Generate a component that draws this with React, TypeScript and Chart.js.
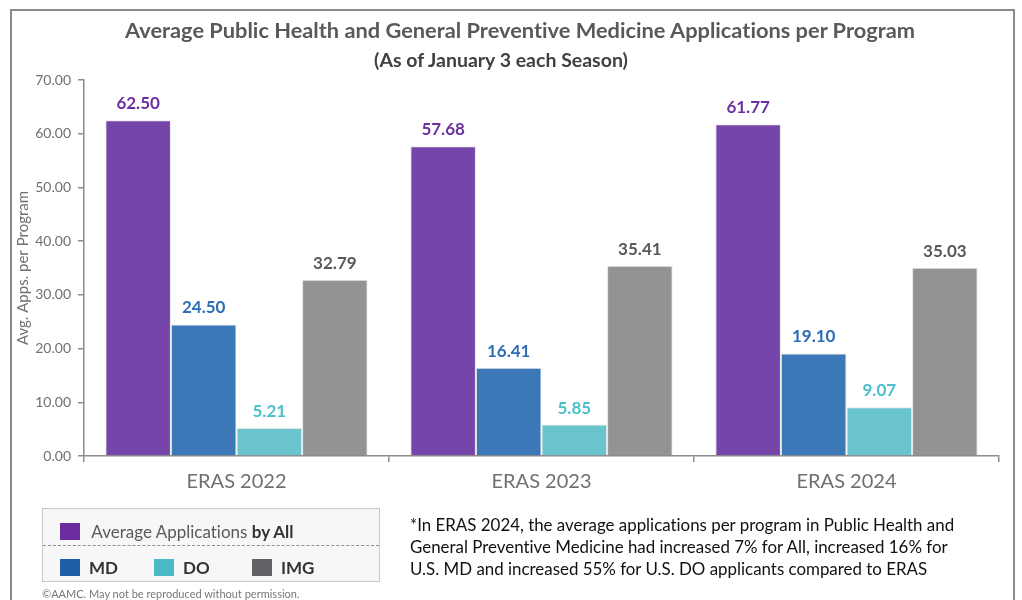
import React, { useEffect, useRef } from "react";
import { Chart, registerables } from "chart.js";

Chart.register(...registerables);

const categories = ["ERAS 2022", "ERAS 2023", "ERAS 2024"];
const allValues = [62.5, 57.68, 61.77];
const mdValues = [24.5, 16.41, 19.1];
const doValues = [5.21, 5.85, 9.07];
const imgValues = [32.79, 35.41, 35.03];
const yTicks = [0, 10, 20, 30, 40, 50, 60, 70];

const seriesNames = ["Average Applications by All", "MD", "DO", "IMG"];
const barColors = ["#7645A9", "#3C78B8", "#69C4CE", "#939393"];
const labelColors = ["#6B2FA0", "#2E6DB4", "#4BBFCB", "#595959"];

const FONT = "Lato, 'Open Sans', sans-serif";

const labelPlugin = {
  id: "valueLabels",
  afterDatasetsDraw(chart: any) {
    const ctx = chart.ctx;
    ctx.save();
    chart.data.datasets.forEach((ds: any, i: number) => {
      const meta = chart.getDatasetMeta(i);
      meta.data.forEach((el: any, j: number) => {
        ctx.fillStyle = labelColors[i];
        ctx.font = `bold 17px ${FONT}`;
        ctx.textAlign = "center";
        ctx.textBaseline = "bottom";
        ctx.fillText(Number(ds.data[j]).toFixed(2), el.x, el.y - 8);
      });
    });
    ctx.restore();
  },
};

export default function App() {
  const ref = useRef<HTMLCanvasElement>(null);
  useEffect(() => {
    const chart = new Chart(ref.current!, {
      type: "bar",
      data: {
        labels: categories,
        datasets: [allValues, mdValues, doValues, imgValues].map((d, i) => ({
          label: seriesNames[i],
          data: d,
          backgroundColor: barColors[i],
          borderColor: "#e6e6e6",
          borderWidth: 1,
          categoryPercentage: 0.86,
          barPercentage: 1,
        })),
      },
      options: {
        animation: false,
        responsive: false,
        maintainAspectRatio: false,
        layout: { padding: { left: 12, right: 23, top: 80, bottom: 100 } },
        plugins: { legend: { display: false }, tooltip: { enabled: false }, title: { display: false } },
        scales: {
          x: {
            grid: { display: true, drawOnChartArea: false, offset: true, tickLength: 6, color: "#8c8c8c", lineWidth: 1.5 },
            border: { display: true, color: "#8c8c8c", width: 1.5 },
            ticks: { color: "#707070", font: { family: FONT, size: 20 }, padding: 8 },
            afterFit: (s: any) => { s.height = 44; },
          },
          y: {
            min: 0,
            max: 70,
            afterBuildTicks: (s: any) => { s.ticks = yTicks.map((v) => ({ value: v })); },
            grid: { display: true, drawOnChartArea: false, tickLength: 6, color: "#8c8c8c", lineWidth: 1.5 },
            border: { display: true, color: "#8c8c8c", width: 1.5 },
            ticks: { color: "#707070", font: { family: FONT, size: 14 }, padding: 7, callback: (v: any) => Number(v).toFixed(2) },
            title: { display: true, text: "Avg. Apps. per Program", color: "#707070", font: { family: FONT, size: 15 }, padding: { top: 2, bottom: 2 } },
            afterFit: (s: any) => { s.width = 72; },
          },
        },
      },
      plugins: [labelPlugin],
    });
    return () => chart.destroy();
  }, []);

  const sq = (c: string) => ({ display: "inline-block", width: 20, height: 17, background: c, verticalAlign: "middle" });

  return (
    <div style={{ position: "fixed", left: 0, top: 0, width: 1022, height: 600, background: "#fff", fontFamily: FONT, fontVariantLigatures: "none", overflow: "hidden" }}>
      <div style={{ position: "absolute", left: 10, top: 9, width: 1005, height: 620, border: "2px solid #8a8a8a", boxSizing: "border-box" }} />
      <canvas ref={ref} width={1022} height={600} style={{ position: "absolute", left: 0, top: 0 }} />
      <div style={{ position: "absolute", left: 0, width: 1040, top: 16, textAlign: "center", fontWeight: "bold", fontSize: 21.8, color: "#595959", whiteSpace: "nowrap" }}>
        Average Public Health and General Preventive Medicine Applications per Program
      </div>
      <div style={{ position: "absolute", left: 0, width: 1002, top: 48, textAlign: "center", fontWeight: "bold", fontSize: 19.5, color: "#404040", whiteSpace: "nowrap" }}>
        (As of January 3 each Season)
      </div>
      <div style={{ position: "absolute", left: 42, top: 508, width: 338, height: 74, border: "1.5px solid #c8c8c8", background: "#f7f7f7", boxSizing: "border-box" }}>
        <div style={{ position: "absolute", left: 17, top: 10, fontSize: 17, color: "#595959", whiteSpace: "nowrap" }}>
          <span style={sq("#6A2CA0")} /> <span style={{ verticalAlign: "middle", marginLeft: 7 }}>Average Applications <b style={{ color: "#333" }}>by All</b></span>
        </div>
        <div style={{ position: "absolute", left: 0, right: 0, top: 36, borderTop: "1px dashed #909090" }} />
        <div style={{ position: "absolute", left: 17, top: 46, fontSize: 17, fontWeight: "bold", color: "#333", whiteSpace: "nowrap" }}>
          <span style={sq("#1F5FAA")} /><span style={{ verticalAlign: "middle", marginLeft: 9 }}>MD</span>
        </div>
        <div style={{ position: "absolute", left: 111, top: 46, fontSize: 17, fontWeight: "bold", color: "#333", whiteSpace: "nowrap" }}>
          <span style={sq("#4BBAC6")} /><span style={{ verticalAlign: "middle", marginLeft: 9 }}>DO</span>
        </div>
        <div style={{ position: "absolute", left: 209, top: 46, fontSize: 17, fontWeight: "bold", color: "#333", whiteSpace: "nowrap" }}>
          <span style={sq("#616265")} /><span style={{ verticalAlign: "middle", marginLeft: 9 }}>IMG</span>
        </div>
      </div>
      <div style={{ position: "absolute", left: 410, top: 514, width: 600, fontSize: 16.9, lineHeight: "22px", color: "#111", whiteSpace: "nowrap" }}>
        *In ERAS 2024, the average applications per program in Public Health and
        <br />
        General Preventive Medicine had increased 7% for All, increased 16% for
        <br />
        U.S. MD and increased 55% for U.S. DO applicants compared to ERAS
      </div>
      <div style={{ position: "absolute", left: 42, top: 587, fontSize: 11, color: "#777", whiteSpace: "nowrap" }}>
        ©AAMC. May not be reproduced without permission.
      </div>
    </div>
  );
}
